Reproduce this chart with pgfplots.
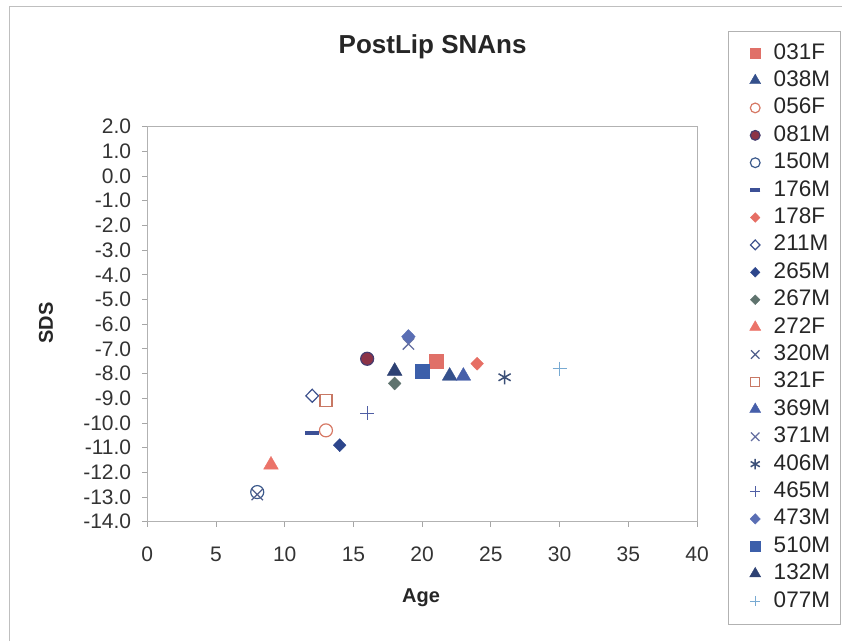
\documentclass[border=0pt]{standalone}
\usepackage{pgfplots}
\pgfplotsset{compat=1.18}
\usepackage{fontspec}
\setmainfont{Liberation Sans}
\definecolor{c031}{RGB}{224,112,104}
\definecolor{c038}{RGB}{52,80,140}
\definecolor{c056}{RGB}{214,120,100}
\definecolor{c081f}{RGB}{140,50,70}
\definecolor{c081d}{RGB}{70,60,110}
\definecolor{c150}{RGB}{60,90,140}
\definecolor{c176}{RGB}{60,80,150}
\definecolor{c178}{RGB}{230,110,100}
\definecolor{c211}{RGB}{60,80,140}
\definecolor{c265}{RGB}{45,70,140}
\definecolor{c267}{RGB}{95,115,110}
\definecolor{c272}{RGB}{235,115,105}
\definecolor{c320}{RGB}{80,95,140}
\definecolor{c321}{RGB}{200,120,100}
\definecolor{c369}{RGB}{70,95,170}
\definecolor{c371}{RGB}{100,110,160}
\definecolor{c406}{RGB}{60,80,120}
\definecolor{c465}{RGB}{80,95,165}
\definecolor{c473}{RGB}{90,110,180}
\definecolor{c510}{RGB}{60,95,170}
\definecolor{c132}{RGB}{45,65,115}
\definecolor{c077}{RGB}{120,170,210}
\begin{document}
\begin{tikzpicture}[x=1pt,y=1pt]
\useasboundingbox (0,0) rectangle (842,641);
\draw[gray!50, line width=0.8pt] (9,0) -- (9,635) -- (842,635);
\draw[gray!60, line width=0.8pt] (728,610) rectangle (840,17);
\node[font=\fontsize{26}{30}\selectfont\bfseries, text=black!85] at (432.6,594) {PostLip SNAns};
\node[font=\fontsize{20}{24}\selectfont\bfseries, text=black!85] at (421,43) {Age};
\node[font=\fontsize{20}{24}\selectfont\bfseries, text=black!85, rotate=90] at (46,318) {SDS};
\begin{axis}[
  at={(147.3pt,119.3pt)}, anchor=south west,
  scale only axis, width=549.7pt, height=395pt,
  xmin=0, xmax=40, ymin=-14, ymax=2,
  xtick={0,5,10,15,20,25,30,35,40},
  xticklabels={0,5,10,15,20,25,30,35,40},
  ytick={-14,-13,-12,-11,-10,-9,-8,-7,-6,-5,-4,-3,-2,-1,0,1,2},
  yticklabels={-14.0,-13.0,-12.0,-11.0,-10.0,-9.0,-8.0,-7.0,-6.0,-5.0,-4.0,-3.0,-2.0,-1.0,0.0,1.0,2.0},
  tick align=outside, xtick pos=left, ytick pos=left,
  major tick length=5pt,
  axis line style={gray!60, line width=0.8pt},
  tick style={gray!70, line width=0.8pt},
  ticklabel style={font=\fontsize{21}{21}\selectfont, text=black!80},
  xticklabel style={yshift=-17pt},
  yticklabel style={xshift=-7.6pt},
  clip=false,
  legend style={draw=none, fill=none, at={(1.0955,1.2121)}, anchor=north west,
    font=\fontsize{22.5}{22.5}\selectfont, text=black!85,
    nodes={inner sep=0pt, text height=16pt, text depth=4pt},
    row sep=7.4pt, column sep=13pt, inner sep=0pt},
  legend cell align=left,
  legend image post style={scale=0.75},
]
\addplot[only marks, mark=square*, mark size=7pt, mark options={fill=c031, draw=c031}] coordinates {(21,-7.5)};
\addlegendentry{031F}
\addplot[only marks, mark=triangle*, mark size=8.5pt, mark options={fill=c038, draw=c038}] coordinates {(22,-8.1)};
\addlegendentry{038M}
\addplot[only marks, mark=o, mark size=6.5pt, mark options={draw=c056, line width=1.2pt}] coordinates {(13,-10.3)};
\addlegendentry{056F}
\addplot[only marks, mark=*, mark size=6.5pt, mark options={fill=c081f, draw=c081d, line width=1.2pt}] coordinates {(16,-7.4)};
\addlegendentry{081M}
\addplot[only marks, mark=o, mark size=6.5pt, mark options={draw=c150, line width=1.2pt}] coordinates {(8,-12.8)};
\addlegendentry{150M}
\addplot[only marks, mark=-, mark size=7pt, mark options={draw=c176, line width=4.5pt}] coordinates {(12,-10.4)};
\addlegendentry{176M}
\addplot[only marks, mark=diamond*, mark size=6.5pt, mark options={fill=c178, draw=c178, xscale=1.3}] coordinates {(24,-7.6)};
\addlegendentry{178F}
\addplot[only marks, mark=diamond, mark size=6.5pt, mark options={draw=c211, line width=1.2pt, xscale=1.3}] coordinates {(12,-8.9)};
\addlegendentry{211M}
\addplot[only marks, mark=diamond*, mark size=6.5pt, mark options={fill=c265, draw=c265, xscale=1.3}] coordinates {(14,-10.9)};
\addlegendentry{265M}
\addplot[only marks, mark=diamond*, mark size=6.5pt, mark options={fill=c267, draw=c267, xscale=1.3}] coordinates {(18,-8.4)};
\addlegendentry{267M}
\addplot[only marks, mark=triangle*, mark size=8.5pt, mark options={fill=c272, draw=c272}] coordinates {(9,-11.7)};
\addlegendentry{272F}
\addplot[only marks, mark=x, mark size=8pt, mark options={draw=c320, line width=1.3pt}] coordinates {(8,-12.9)};
\addlegendentry{320M}
\addplot[only marks, mark=square, mark size=6pt, mark options={draw=c321, line width=1.2pt}] coordinates {(13,-9.1)};
\addlegendentry{321F}
\addplot[only marks, mark=triangle*, mark size=8.5pt, mark options={fill=c369, draw=c369}] coordinates {(23,-8.1)};
\addlegendentry{369M}
\addplot[only marks, mark=x, mark size=8pt, mark options={draw=c371, line width=1.3pt}] coordinates {(19,-6.8)};
\addlegendentry{371M}
\addplot[only marks, mark=asterisk, mark size=7pt, mark options={draw=c406, line width=1.5pt}] coordinates {(26,-8.15)};
\addlegendentry{406M}
\addplot[only marks, mark=+, mark size=7pt, mark options={draw=c465, line width=1.1pt}] coordinates {(16,-9.6)};
\addlegendentry{465M}
\addplot[only marks, mark=diamond*, mark size=7pt, mark options={fill=c473, draw=c473, xscale=1.3}] coordinates {(19,-6.5)};
\addlegendentry{473M}
\addplot[only marks, mark=square*, mark size=7pt, mark options={fill=c510, draw=c510}] coordinates {(20,-7.9)};
\addlegendentry{510M}
\addplot[only marks, mark=triangle*, mark size=8.5pt, mark options={fill=c132, draw=c132}] coordinates {(18,-7.9)};
\addlegendentry{132M}
\addplot[only marks, mark=+, mark size=7pt, mark options={draw=c077, line width=1.1pt}] coordinates {(30,-7.8)};
\addlegendentry{077M}
\end{axis}
\end{tikzpicture}
\end{document}
